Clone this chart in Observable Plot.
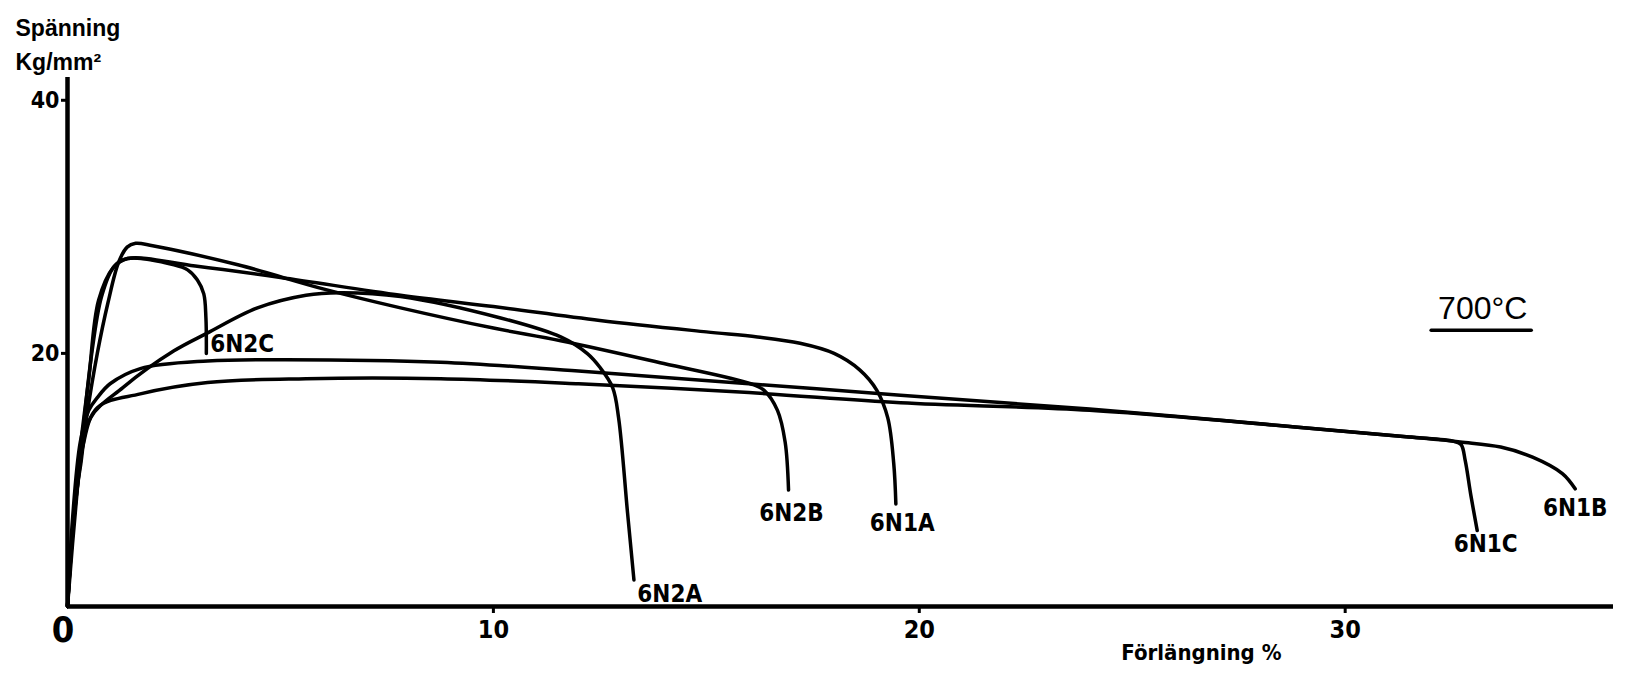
<!DOCTYPE html>
<html><head><meta charset="utf-8">
<script src="https://cdn.jsdelivr.net/npm/d3@7"></script>
<script src="https://cdn.jsdelivr.net/npm/@observablehq/plot@0.6"></script>
<style>body{margin:0;background:#fff}</style>
</head><body><div id="chart"></div>
<script>
// Stress–strain curves at 700 °C: [elongation %, stress kg/mm²]
const c6N2C = [[0,0],[0.12,5],[0.25,10],[0.4,15],[0.55,19.5],[0.8,24.5],[1.1,26.9],[1.41,27.5],[2.5,27.0],[2.82,26.6],[3.05,25.8],[3.2,24.7],[3.25,22.8],[3.26,20.0]];
const c6N2A = [[0,0],[0.12,6],[0.3,11],[0.54,14.9],[1.3,17.3],[2.5,20.2],[3.28,21.6],[4.46,23.6],[5.6,24.6],[6.4,24.8],[7.82,24.5],[10.17,22.8],[11.58,21.3],[12.2,20.0],[12.5,18.9],[12.8,17.3],[12.94,14.9],[13.15,7.4],[13.3,2.1]];
const c6N2B = [[0,0],[0.1,5],[0.25,10],[0.45,15],[0.7,20],[0.95,24],[1.2,27.2],[1.4,28.4],[1.6,28.7],[2,28.5],[4,27.0],[6,25.1],[7.82,23.6],[10,22.0],[11.58,21.0],[14,19.2],[16.04,17.6],[16.35,17.1],[16.67,15.5],[16.85,13],[16.93,9.2]];
const c6N1A = [[0,0],[0.1,5],[0.22,10],[0.35,14],[0.5,18],[0.73,24.2],[1.08,26.8],[1.41,27.5],[3,26.9],[5,26.0],[7.82,24.6],[10,23.7],[12.5,22.6],[15,21.7],[16.2,21.3],[17.2,20.8],[18,20.0],[18.6,18.7],[19.0,17.1],[19.26,14.9],[19.4,11.3],[19.45,8.1]];
const c6N1C = [[0,0],[0.12,7],[0.3,13],[0.5,15.5],[0.7,16.5],[1.0,17.6],[1.71,18.8],[3.29,19.4],[5,19.5],[8.76,19.3],[12,18.6],[16,17.6],[19.56,16.7],[24,15.6],[28.96,14.15],[31.5,13.4],[32.55,13.05],[32.72,12.8],[32.82,11.5],[32.95,8.8],[33.1,6.0]];
const c6N1B = [[0,0],[0.15,7],[0.35,12.5],[0.7,15.7],[1.71,16.8],[3.29,17.7],[5.6,18.0],[8.76,18.0],[12,17.6],[16,16.9],[19.56,16.1],[24,15.5],[28.96,14.15],[31.5,13.4],[32.7,13.0],[33.65,12.6],[34.4,11.8],[35.1,10.5],[35.4,9.3]];

const seriesNames = ["6N2C","6N2A","6N2B","6N1A","6N1C","6N1B"];
const seriesData  = [c6N2C, c6N2A, c6N2B, c6N1A, c6N1C, c6N1B];
const labelX = [4.1, 14.14, 17.0, 19.6, 33.3, 35.4];
const labelY = [20.75, 0.95, 7.4, 6.6, 4.9, 7.75];

// temperature annotation (data coordinates)
const tempText = ["700°C"];
const tempX = [33.23];
const tempY = [23.56];

const xTicks = [10, 20, 30];
const yTicks = [20, 40];

const rows = seriesNames.flatMap((name, i) => seriesData[i].map(([x, y]) => ({name, x, y})));
const labelRows = seriesNames.map((name, i) => ({name, x: labelX[i], y: labelY[i]}));
const tempRows = tempText.map((t, i) => ({t, x: tempX[i], y: tempY[i]}));

const NARROW = '"Liberation Sans Narrow","DejaVu Sans Condensed","Roboto Condensed",sans-serif';
const WIDE = '"Liberation Sans",Arial,sans-serif';

const chart = Plot.plot({
  width: 1633, height: 675,
  marginLeft: 67, marginRight: 20, marginTop: 77, marginBottom: 69,
  style: {fontFamily: NARROW, fontWeight: "bold", color: "#000", background: "#fff"},
  x: {domain: [0, 36.3], label: null},
  y: {domain: [0, 41.8], label: null},
  marks: [
    Plot.line(rows, {x: "x", y: "y", z: "name", stroke: "#000", strokeWidth: 3.5, curve: "catmull-rom", strokeLinejoin: "round", strokeLinecap: "round"}),
    Plot.ruleX([0], {stroke: "#000", strokeWidth: 4.5}),
    Plot.ruleY([0], {stroke: "#000", strokeWidth: 4.5}),
    Plot.axisX({ticks: xTicks, tickSize: 7, tickPadding: 7, fontSize: 25, label: null, strokeWidth: 3}),
    Plot.axisY({ticks: yTicks, tickSize: 6, tickPadding: 2, fontSize: 23, label: null, strokeWidth: 3}),
    Plot.text(["0"], {frameAnchor: "bottom-left", textAnchor: "middle", lineAnchor: "middle", dx: -4.5, dy: 24, fontSize: 36, fontWeight: "bold"}),
    Plot.text(labelRows, {x: "x", y: "y", text: "name", fontSize: 24, fontWeight: "bold"}),
    Plot.text(["Spänning\nKg/mm²"], {frameAnchor: "top-left", textAnchor: "start", lineAnchor: "top", dx: -52, dy: -66, fontSize: 23, lineHeight: 1.5, fontFamily: WIDE, fontWeight: "bold"}),
    Plot.text(["Förlängning\u00a0%"], {frameAnchor: "bottom-right", textAnchor: "end", lineAnchor: "top", dx: -332, dy: 38, fontSize: 22, fontWeight: "bold"}),
    Plot.text(tempRows, {x: "x", y: "y", text: "t", textAnchor: "middle", lineAnchor: "middle", fontSize: 32, fontFamily: WIDE, fontWeight: "normal"}),
    Plot.ruleY(tempRows, {y: d => d.y - 1.74, x1: d => d.x - 1.2, x2: d => d.x + 1.15, stroke: "#000", strokeWidth: 3.5, strokeLinecap: "round"})
  ]
});
document.getElementById("chart").appendChild(chart);
</script>
</body></html>
